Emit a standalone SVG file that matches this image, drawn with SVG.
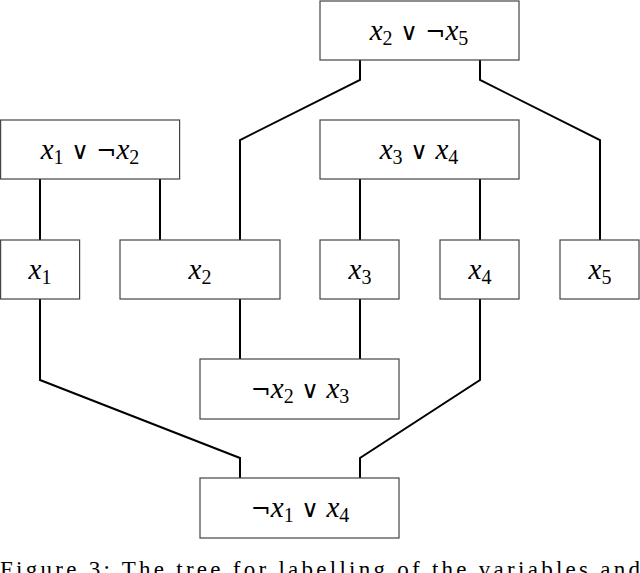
<svg xmlns="http://www.w3.org/2000/svg" width="640" height="573" viewBox="0 0 640 573">
<style>
.box{fill:#fff;stroke:#444;stroke-width:1.2}
.edge{fill:none;stroke:#000;stroke-width:2}
text{font-family:'Liberation Serif','Times New Roman','DejaVu Serif',serif}
.lbl{font-size:29px;fill:#000;text-anchor:middle}
.v{font-style:italic}
.s{font-size:20px}
.cap{font-size:23px;fill:#000}
</style>
<rect width="640" height="573" fill="#fff"/>
<g id="connectors">
<polyline class="edge" points="360,60 360,80 240,140 240,240"/>
<polyline class="edge" points="480,60 480,80 600,140 600,240"/>
<line class="edge" x1="40" y1="179" x2="40" y2="240"/>
<line class="edge" x1="160" y1="179" x2="160" y2="240"/>
<line class="edge" x1="360" y1="179" x2="360" y2="240"/>
<line class="edge" x1="480" y1="179" x2="480" y2="240"/>
<line class="edge" x1="240" y1="299" x2="240" y2="359"/>
<line class="edge" x1="360" y1="299" x2="360" y2="359"/>
<polyline class="edge" points="40,299 40,380 240,458 240,478"/>
<polyline class="edge" points="480,299 480,380 360,458 360,478"/>
</g>
<g id="n_x2_or_notx5">
<rect class="box" x="320" y="1" width="199" height="59"/>
<text class="lbl" x="419" y="40"><tspan class="v">x</tspan><tspan class="s" dy="5">2</tspan><tspan dy="-5" font-family="DejaVu Serif, serif" font-size="24"> ∨ ¬</tspan><tspan class="v">x</tspan><tspan class="s" dy="5">5</tspan></text>
</g>
<g id="n_x1_or_notx2">
<rect class="box" x="0.6" y="120" width="179" height="59"/>
<text class="lbl" x="90" y="159"><tspan class="v">x</tspan><tspan class="s" dy="5">1</tspan><tspan dy="-5" font-family="DejaVu Serif, serif" font-size="24"> ∨ ¬</tspan><tspan class="v">x</tspan><tspan class="s" dy="5">2</tspan></text>
</g>
<g id="n_x3_or_x4">
<rect class="box" x="320" y="120" width="199" height="59"/>
<text class="lbl" x="419" y="159"><tspan class="v">x</tspan><tspan class="s" dy="5">3</tspan><tspan dy="-5" font-family="DejaVu Serif, serif" font-size="24"> ∨ </tspan><tspan class="v">x</tspan><tspan class="s" dy="5">4</tspan></text>
</g>
<g id="n_x1">
<rect class="box" x="0.6" y="240" width="79" height="59"/>
<text class="lbl" x="40" y="279"><tspan class="v">x</tspan><tspan class="s" dy="5">1</tspan></text>
</g>
<g id="n_x2">
<rect class="box" x="120" y="240" width="160" height="59"/>
<text class="lbl" x="200" y="279"><tspan class="v">x</tspan><tspan class="s" dy="5">2</tspan></text>
</g>
<g id="n_x3">
<rect class="box" x="320" y="240" width="79" height="59"/>
<text class="lbl" x="360" y="279"><tspan class="v">x</tspan><tspan class="s" dy="5">3</tspan></text>
</g>
<g id="n_x4">
<rect class="box" x="440" y="240" width="79" height="59"/>
<text class="lbl" x="480" y="279"><tspan class="v">x</tspan><tspan class="s" dy="5">4</tspan></text>
</g>
<g id="n_x5">
<rect class="box" x="560" y="240" width="79" height="59"/>
<text class="lbl" x="600" y="279"><tspan class="v">x</tspan><tspan class="s" dy="5">5</tspan></text>
</g>
<g id="n_notx2_or_x3">
<rect class="box" x="200" y="359" width="199" height="60"/>
<text class="lbl" x="300" y="398"><tspan font-family="DejaVu Serif, serif" font-size="24">¬</tspan><tspan class="v">x</tspan><tspan class="s" dy="5">2</tspan><tspan dy="-5" font-family="DejaVu Serif, serif" font-size="24"> ∨ </tspan><tspan class="v">x</tspan><tspan class="s" dy="5">3</tspan></text>
</g>
<g id="n_notx1_or_x4">
<rect class="box" x="200" y="478" width="199" height="60"/>
<text class="lbl" x="300" y="517"><tspan font-family="DejaVu Serif, serif" font-size="24">¬</tspan><tspan class="v">x</tspan><tspan class="s" dy="5">1</tspan><tspan dy="-5" font-family="DejaVu Serif, serif" font-size="24"> ∨ </tspan><tspan class="v">x</tspan><tspan class="s" dy="5">4</tspan></text>
</g>
<text class="cap" x="0" y="577" textLength="640" lengthAdjust="spacing">Figure 3: The tree for labelling of the variables and</text>
</svg>
